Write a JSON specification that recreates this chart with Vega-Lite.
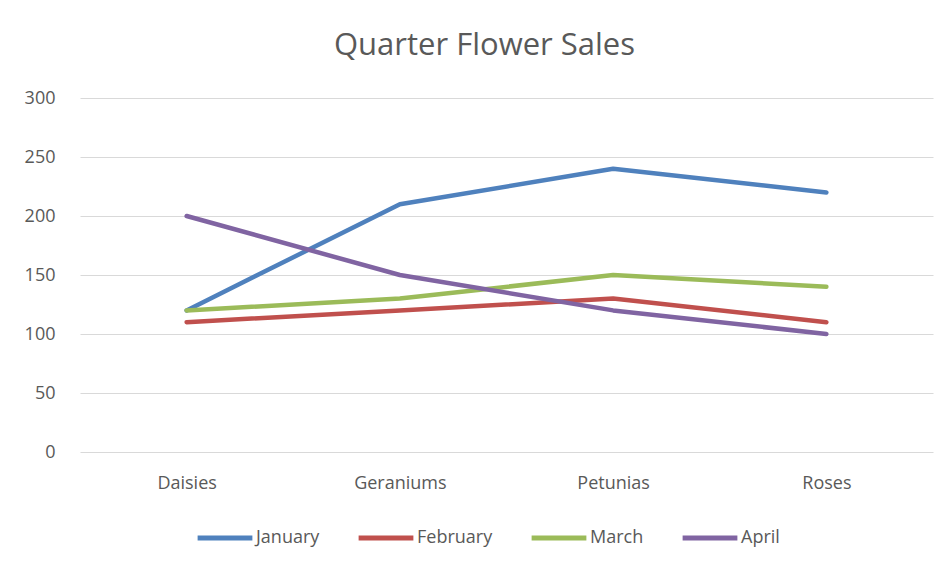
{
  "$schema": "https://vega.github.io/schema/vega-lite/v6.json",
  "autosize": {"type": "none"},
  "width": 853,
  "height": 354,
  "padding": {"left": 80, "top": 98, "right": 15, "bottom": 112},
  "background": "white",
  "title": {
    "text": "Quarter Flower Sales",
    "fontSize": 31,
    "font": "Open Sans",
    "fontWeight": "normal",
    "color": "#595959",
    "anchor": "middle",
    "frame": "group",
    "dx": -22,
    "offset": 27
  },
  "data": {
    "values": [
      {"flower": "Daisies", "month": "January", "sales": 120},
      {"flower": "Geraniums", "month": "January", "sales": 210},
      {"flower": "Petunias", "month": "January", "sales": 240},
      {"flower": "Roses", "month": "January", "sales": 220},
      {"flower": "Daisies", "month": "February", "sales": 110},
      {"flower": "Geraniums", "month": "February", "sales": 120},
      {"flower": "Petunias", "month": "February", "sales": 130},
      {"flower": "Roses", "month": "February", "sales": 110},
      {"flower": "Daisies", "month": "March", "sales": 120},
      {"flower": "Geraniums", "month": "March", "sales": 130},
      {"flower": "Petunias", "month": "March", "sales": 150},
      {"flower": "Roses", "month": "March", "sales": 140},
      {"flower": "Daisies", "month": "April", "sales": 200},
      {"flower": "Geraniums", "month": "April", "sales": 150},
      {"flower": "Petunias", "month": "April", "sales": 120},
      {"flower": "Roses", "month": "April", "sales": 100}
    ]
  },
  "mark": {"type": "line", "strokeWidth": 4.5, "strokeCap": "round", "strokeJoin": "round"},
  "encoding": {
    "x": {
      "field": "flower",
      "type": "nominal",
      "sort": ["Daisies", "Geraniums", "Petunias", "Roses"],
      "scale": {"type": "point", "padding": 0.5},
      "axis": {"title": null, "labelAngle": 0, "domain": false, "ticks": false, "grid": false, "labelPadding": 22, "labelFontSize": 18, "labelFont": "Open Sans", "labelColor": "#595959"}
    },
    "y": {
      "field": "sales",
      "type": "quantitative",
      "scale": {"domain": [0, 300]},
      "axis": {"title": null, "values": [0, 50, 100, 150, 200, 250, 300], "domain": false, "ticks": false, "labelPadding": 25, "labelFontSize": 18, "labelFont": "Open Sans", "labelColor": "#595959", "gridColor": "#d9d9d9", "gridWidth": 1}
    },
    "color": {
      "field": "month",
      "type": "nominal",
      "sort": ["January", "February", "March", "April"],
      "scale": {"domain": ["January", "February", "March", "April"], "range": ["#4F81BD", "#C0504D", "#9BBB59", "#8064A2"]},
      "legend": {
        "title": null,
        "orient": "none",
        "direction": "horizontal",
        "legendX": 115,
        "legendY": 410,
        "symbolType": "stroke",
        "symbolSize": 3000,
        "symbolStrokeWidth": 5,
        "labelOffset": 1,
        "columnPadding": 28,
        "labelFontSize": 18,
        "labelFont": "Open Sans",
        "labelColor": "#595959"
      }
    }
  },
  "config": {"view": {"stroke": null}}
}
